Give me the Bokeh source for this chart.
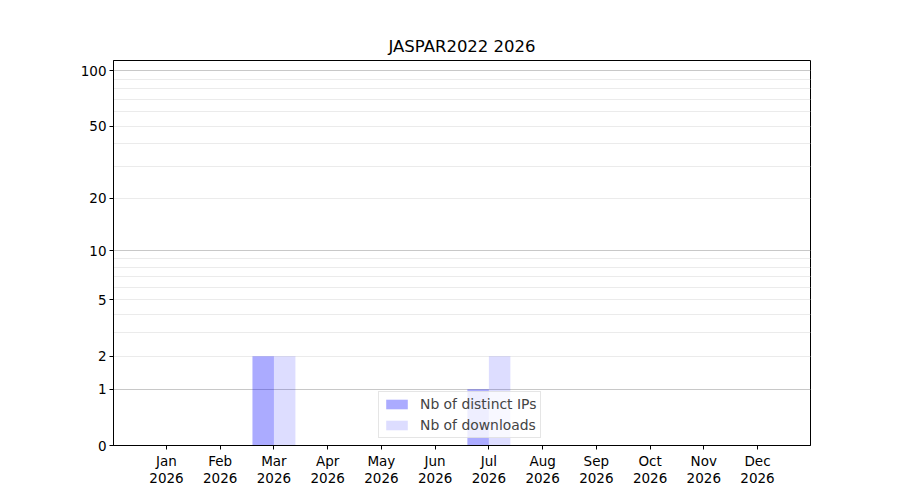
import numpy as np
from bokeh.plotting import figure
from bokeh.models import FixedTicker, Grid, Range1d, ColumnDataSource, Legend, LegendItem
from bokeh.embed import file_html
from bokeh.resources import INLINE

months = ["Jan", "Feb", "Mar", "Apr", "May", "Jun", "Jul", "Aug", "Sep", "Oct", "Nov", "Dec"]
year = "2026"
distinct_ips = [0, 0, 2, 0, 0, 0, 1, 0, 0, 0, 0, 0]
downloads = [0, 0, 2, 0, 0, 0, 2, 0, 0, 0, 0, 0]
y_tick_values = [0, 1, 2, 5, 10, 20, 50, 100]
y_major_grid_values = [1, 10, 100]
y_minor_grid_values = [2, 3, 4, 5, 6, 7, 8, 9, 20, 30, 40, 50, 60, 70, 80, 90]
title = "JASPAR2022 2026"

def tr(v):
    return np.log10(1.0 + np.asarray(v, dtype=float))

FONT = "DejaVu Sans"
idx = np.arange(len(months))
src = ColumnDataSource(dict(
    x_ip=idx - 0.2, x_dl=idx + 0.2,
    ip=tr(distinct_ips), dl=tr(downloads),
))

p = figure(frame_width=697, frame_height=385, output_backend="svg", toolbar_location=None,
           x_range=Range1d(-0.986, 11.986), y_range=Range1d(0, 2.059),
           min_border_left=113, min_border_right=90, min_border_top=60, min_border_bottom=55)
p.background_fill_color = "white"
p.border_fill_color = "white"
p.outline_line_color = "black"
p.outline_line_width = 1
p.outline_line_alpha = 1.0

p.xgrid.visible = False
p.ygrid.visible = False
p.add_layout(Grid(dimension=1, ticker=FixedTicker(ticks=list(tr(y_minor_grid_values))),
                  grid_line_color="#ebebeb", grid_line_width=1))
p.add_layout(Grid(dimension=1, ticker=FixedTicker(ticks=list(tr(y_major_grid_values))),
                  grid_line_color="#c8c8c8", grid_line_width=1))

r_ip = p.vbar(x="x_ip", top="ip", bottom=0, width=0.4, source=src,
              fill_color="#0000ff", fill_alpha=0.33, line_color=None)
r_dl = p.vbar(x="x_dl", top="dl", bottom=0, width=0.4, source=src,
              fill_color="#0000ff", fill_alpha=0.135, line_color=None)

# x axis
p.xaxis.ticker = FixedTicker(ticks=list(idx))
p.xaxis.major_label_overrides = {int(i): f"{m}\n{year}" for i, m in zip(idx, months)}
# y axis
yt = list(tr(y_tick_values))
p.yaxis.ticker = FixedTicker(ticks=yt)
p.yaxis.major_label_overrides = {float(t): str(v) for t, v in zip(yt, y_tick_values)}

for ax in (p.xaxis[0], p.yaxis[0]):
    ax.axis_line_color = "black"
    ax.major_tick_line_color = "black"
    ax.major_tick_out = 4
    ax.major_tick_in = 0
    ax.minor_tick_out = 0
    ax.minor_tick_in = 0
    ax.major_label_text_font = FONT
    ax.major_label_text_font_size = "13.5px"
    ax.major_label_text_color = "black"
    ax.major_label_standoff = 3
p.xaxis[0].major_label_text_line_height = 1.1

p.title.text = title
p.title.align = "center"
p.title.text_font = FONT
p.title.text_font_size = "16.5px"
p.title.text_font_style = "normal"
p.title.text_color = "black"

legend = Legend(items=[LegendItem(label="Nb of distinct IPs", renderers=[r_ip]),
                       LegendItem(label="Nb of downloads", renderers=[r_dl])],
                location=(265, 7))
legend.label_text_font = FONT
legend.label_text_font_size = "13.9px"
legend.glyph_width = 27
legend.glyph_height = 12
legend.label_height = 14
legend.spacing = 5
legend.padding = 4
legend.margin = 0
legend.label_standoff = 10
legend.border_line_color = "#cccccc"
legend.background_fill_alpha = 0.8
p.add_layout(legend)

open("out.html", "w").write(file_html(p, INLINE))
